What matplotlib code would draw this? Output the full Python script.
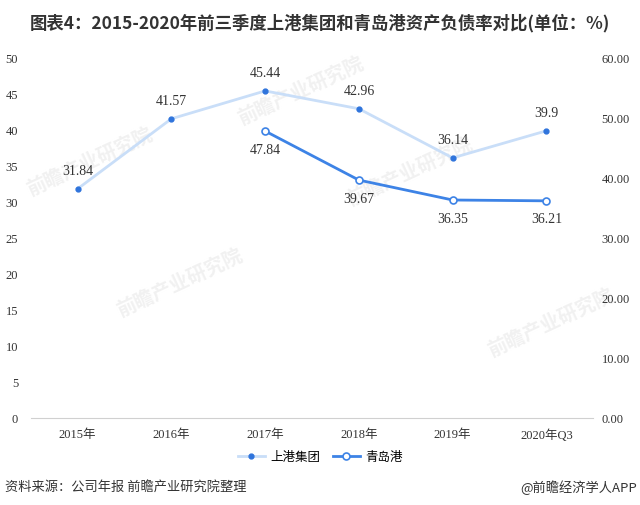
import numpy as np
import matplotlib
matplotlib.use("Agg")
import matplotlib.pyplot as plt

plt.rcParams['font.family'] = ['Noto Sans CJK SC', 'DejaVu Sans']

years = ['2015年', '2016年', '2017年', '2018年', '2019年', '2020年Q3']
sipg = [31.84, 41.57, 45.44, 42.96, 36.14, 39.9]
qdp_years = ['2017年', '2018年', '2019年', '2020年Q3']
qdp = [47.84, 39.67, 36.35, 36.21]

serif = ['Liberation Serif', 'Noto Sans CJK SC']
x = np.arange(len(years))
xq = np.array([years.index(y) for y in qdp_years])

fig = plt.figure(figsize=(6.4, 5.05), dpi=100)
ax = fig.add_axes([0.048, 0.172, 0.879, 0.713])
ax2 = ax.twinx()
ax.patch.set_visible(False)
ax2.patch.set_visible(False)

# faint watermarks
for wx, wy in [(0.14, 0.68), (0.47, 0.82), (0.64, 0.66), (0.28, 0.44), (0.86, 0.36)]:
    fig.text(wx, wy, '前瞻产业研究院', fontsize=14, color='#f1f1f1', rotation=25,
             ha='center', va='center', fontweight='bold', zorder=-1)

ax.plot(x, sipg, color='#c9def8', lw=2, marker='o', ms=3.5,
        markerfacecolor='#2f74dc', markeredgecolor='#2f74dc', label='上港集团', zorder=3)
ax2.plot(xq, qdp, color='#3d83e6', lw=2, marker='o', ms=5,
         markerfacecolor='white', markeredgecolor='#3d83e6', markeredgewidth=1.2,
         label='青岛港', zorder=3)

for xi, v in zip(x, sipg):
    ax.annotate(f'{v:g}', (xi, v), xytext=(0, 8), textcoords='offset points',
                ha='center', va='bottom', fontsize=10, family=serif, color='#333333')
for xi, v in zip(xq, qdp):
    ax2.annotate(f'{v:.2f}', (xi, v), xytext=(0, -9), textcoords='offset points',
                 ha='center', va='top', fontsize=10, family=serif, color='#333333')

ax.set_xlim(-0.5, len(years) - 0.5)
ax.set_ylim(0, 50)
ax2.set_ylim(0, 60)
ax.set_yticks(range(0, 51, 5))
ax2.set_yticks(range(0, 61, 10))
ax2.set_yticklabels([f'{t}.00' for t in range(0, 61, 10)])
ax.set_xticks(x)
ax.set_xticklabels(years)

for a in (ax, ax2):
    for s in a.spines.values():
        s.set_visible(False)
    a.tick_params(length=0, labelsize=9, colors='#333333')
    for lbl in a.get_yticklabels() + a.get_xticklabels():
        lbl.set_family(serif)
ax.spines['bottom'].set_visible(True)
ax.spines['bottom'].set_color('#d0d0d0')
ax.tick_params(axis='x', pad=8)
ax.tick_params(axis='y', pad=9)
ax2.tick_params(axis='y', pad=6)

h1, l1 = ax.get_legend_handles_labels()
h2, l2 = ax2.get_legend_handles_labels()
fig.legend(h1 + h2, l1 + l2, loc='center', bbox_to_anchor=(0.5, 0.095), ncol=2,
           frameon=False, fontsize=9, handlelength=2.2, columnspacing=1.0, handletextpad=0.4)

fig.text(0.5, 0.955, '图表4：2015-2020年前三季度上港集团和青岛港资产负债率对比(单位：%)',
         ha='center', va='center', fontsize=12.5, fontweight='bold', color='#333333')
fig.text(0.008, 0.035, '资料来源：公司年报 前瞻产业研究院整理', ha='left', va='center',
         fontsize=9.5, color='#333333')
fig.text(0.995, 0.035, '@前瞻经济学人APP', ha='right', va='center',
         fontsize=9.5, color='#333333')

fig.savefig('out.png', dpi=100)
